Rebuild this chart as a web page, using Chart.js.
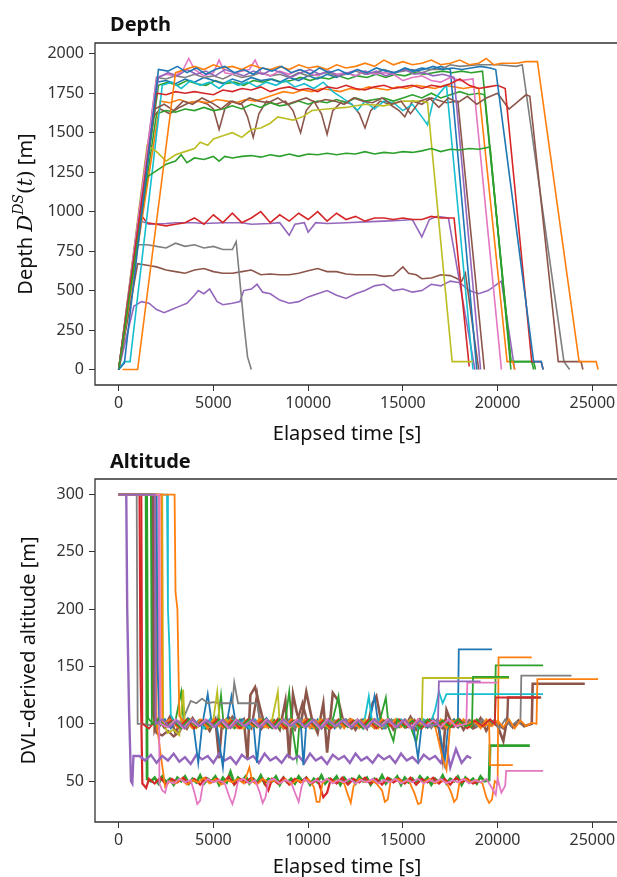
<!DOCTYPE html>
<html>
<head>
<meta charset="utf-8">
<script src="https://cdn.jsdelivr.net/npm/chart.js@4.4.1/dist/chart.umd.min.js"></script>
<style>
html, body { margin: 0; padding: 0; background: #fff; overflow: hidden; width: 617px; height: 877px; }
#depthChart { position: absolute; left: 0; top: 0; }
#altChart { position: absolute; left: 0; top: 440px; }
</style>
</head>
<body>
<canvas id="depthChart" width="617" height="460"></canvas>
<canvas id="altChart" width="617" height="437"></canvas>
<script>
// tick labels
const TIME_TICKS = [0, 5000, 10000, 15000, 20000, 25000];
const DEPTH_TICKS = [0, 250, 500, 750, 1000, 1250, 1500, 1750, 2000];
const ALT_TICKS = [50, 100, 150, 200, 250, 300];

// matplotlib tab10
const C = {
    blue: '#1f77b4', orange: '#ff7f0e', green: '#2ca02c', red: '#d62728', purple: '#9467bd',
    brown: '#8c564b', pink: '#e377c2', gray: '#7f7f7f', olive: '#bcbd22', cyan: '#17becf'
};

// ---- Depth dives [time s, depth m] ----
const dGray780 = [[0,0],[1000,790],[1500,790],[2000,780],[2500,770],[3000,800],[3500,780],[4000,790],[4500,770],[5000,780],[5500,760],[6000,760],[6200,810],[6600,300],[6800,80],[7000,0]];
const dBrown620 = [[0,0],[1000,670],[1500,660],[2000,650],[2500,630],[3000,620],[3500,610],[4000,630],[4500,640],[5000,620],[5500,610],[6000,610],[6500,620],[7000,630],[7500,600],[8000,605],[8500,600],[9000,600],[9500,610],[10000,625],[10500,640],[11000,620],[11500,620],[12000,605],[12500,600],[13000,600],[13500,600],[14000,590],[14500,595],[15000,650],[15300,610],[15700,600],[16000,575],[16500,580],[17000,600],[17500,595],[17800,580],[18100,560],[18300,610],[19000,0]];
const dPurple450 = [[0,0],[800,400],[1200,430],[1600,420],[2000,380],[2400,360],[2800,380],[3200,400],[3600,420],[4000,470],[4200,500],[4500,480],[4800,510],[5200,430],[5500,410],[6000,420],[6400,430],[6600,500],[7000,510],[7300,540],[7600,490],[8000,480],[8500,440],[9000,420],[9500,430],[10000,460],[10500,480],[11000,500],[11500,470],[12000,450],[12500,480],[13000,500],[13500,530],[14000,540],[14500,500],[15000,510],[15500,490],[16000,500],[16500,540],[17000,530],[17500,560],[18000,550],[18500,500],[19000,480],[19500,500],[20200,560],[20900,0]];
const dRed950 = [[0,0],[1100,990],[1500,930],[2000,920],[2500,910],[3000,920],[3500,930],[4000,960],[4500,920],[5000,980],[5500,930],[6000,990],[6500,930],[7000,960],[7500,1000],[8000,930],[8500,980],[9000,940],[9500,990],[10000,950],[10500,1000],[11000,940],[11500,990],[12000,950],[12500,970],[13000,940],[13500,960],[14000,960],[14500,950],[15000,960],[15500,950],[16000,950],[16500,970],[17000,960],[17700,960],[18500,20]];
const dPurple930 = [[0,0],[1200,940],[1600,920],[2500,925],[3000,930],[4000,930],[4500,925],[5500,930],[6500,930],[7000,920],[8000,925],[8500,930],[9000,850],[9300,920],[9800,930],[10000,870],[10400,930],[11000,925],[12000,930],[13000,935],[14000,940],[15000,945],[15500,950],[16000,840],[16400,950],[16800,970],[17400,960],[18800,0]];
const dGreen1350 = [[0,0],[1500,1220],[2000,1260],[2500,1300],[3000,1320],[3300,1360],[3600,1310],[4000,1340],[4500,1330],[5000,1350],[5300,1320],[5600,1350],[6000,1340],[6500,1350],[7000,1355],[7500,1345],[8000,1360],[8500,1350],[9000,1365],[9500,1350],[10000,1365],[10500,1360],[11000,1370],[11500,1360],[12000,1370],[12500,1365],[13000,1380],[13500,1365],[14000,1375],[14500,1370],[15000,1380],[15500,1375],[16000,1385],[16500,1400],[17000,1380],[17500,1395],[18000,1390],[18500,1400],[19000,1395],[19600,1410],[20700,0]];
const dOlive = [[0,0],[1500,1420],[2000,1380],[2500,1320],[3000,1360],[3500,1380],[4000,1400],[4300,1440],[4700,1420],[5000,1460],[5500,1480],[6000,1500],[6500,1470],[7000,1520],[7500,1530],[8000,1560],[8400,1600],[8800,1590],[9200,1580],[9700,1600],[10200,1640],[11000,1650],[12000,1660],[13000,1680],[14000,1670],[15000,1700],[16000,1700],[16300,1690],[17600,50],[18700,50]];
const dBlue1 = [[0,0],[300,40],[2100,1900],[2600,1890],[3100,1920],[3600,1880],[4100,1910],[4600,1870],[5100,1900],[5600,1920],[6100,1880],[6600,1900],[7100,1870],[7600,1910],[8100,1890],[8600,1920],[9100,1880],[9600,1900],[10100,1870],[10600,1910],[11100,1880],[11600,1900],[12100,1870],[12600,1900],[13100,1880],[13600,1910],[14100,1890],[14600,1880],[15100,1910],[15600,1890],[16100,1900],[16600,1920],[17100,1900],[17600,1910],[18100,1900],[18600,1910],[19100,1920],[19600,1910],[19900,1900],[21900,50],[22300,50],[22400,0]];
const dOrangeLong = [[200,0],[1000,0],[3000,1880],[3500,1900],[4000,1920],[4500,1900],[5000,1930],[5500,1910],[6000,1920],[6500,1900],[7000,1930],[7500,1910],[8000,1900],[8500,1920],[9000,1900],[9500,1930],[10000,1910],[10500,1920],[11000,1900],[11500,1930],[12000,1910],[12500,1920],[13000,1940],[13500,1920],[14000,1960],[14500,1930],[15000,1950],[15500,1930],[16000,1940],[16500,1960],[17000,1930],[17500,1940],[18000,1960],[18500,1930],[19000,1940],[19400,1970],[19800,1930],[20200,1940],[20600,1940],[21000,1940],[21500,1950],[22100,1950],[24300,50],[25200,50],[25300,0]];
const dGrayLong = [[0,0],[2000,1850],[2500,1840],[3000,1860],[3500,1850],[4000,1870],[4500,1850],[5000,1860],[5500,1840],[6000,1870],[6500,1850],[7000,1860],[7500,1880],[8000,1860],[8500,1870],[9000,1850],[9500,1880],[10000,1860],[10500,1870],[11000,1880],[11500,1860],[12000,1870],[12500,1890],[13000,1870],[13500,1880],[14000,1900],[14500,1880],[15000,1890],[15500,1900],[16000,1880],[16500,1900],[17000,1900],[17500,1930],[18000,1920],[19000,1930],[20000,1930],[21000,1920],[21300,1930],[23500,50],[23800,0]];
const dBrownLong = [[0,0],[1900,1650],[2400,1680],[2900,1640],[3400,1700],[3900,1680],[4400,1720],[4900,1690],[5400,1650],[5900,1700],[6400,1680],[6900,1720],[7400,1700],[7900,1690],[8400,1720],[8900,1680],[9400,1700],[9900,1720],[10400,1690],[10900,1710],[11400,1700],[11900,1680],[12400,1720],[12900,1700],[13400,1690],[13900,1720],[14400,1680],[14900,1700],[15400,1620],[15900,1700],[16400,1720],[16900,1660],[17400,1720],[17900,1690],[18400,1730],[18900,1680],[19400,1720],[20000,1750],[20600,1650],[21100,1700],[21500,1740],[21700,1730],[23200,50],[24400,50],[24500,0]];
const dBrownDip = [[0,0],[1800,1600],[2200,1650],[2700,1620],[3200,1660],[3700,1690],[4200,1700],[4700,1680],[5000,1650],[5300,1520],[5600,1650],[6000,1700],[6500,1680],[6800,1600],[7100,1470],[7400,1620],[7800,1700],[8300,1680],[8800,1700],[9200,1640],[9600,1500],[9900,1640],[10300,1700],[10700,1620],[11000,1490],[11300,1640],[11800,1700],[12300,1680],[12700,1620],[13000,1530],[13300,1640],[13800,1700],[14300,1680],[14800,1640],[15100,1600],[15500,1700],[16000,1680],[16500,1720],[17000,1700],[17300,1690],[17900,1700],[19300,0]];
const dPink = [[0,0],[2000,1850],[2500,1870],[3000,1860],[3400,1900],[3700,1970],[4000,1900],[4500,1860],[5000,1880],[5300,1960],[5600,1880],[6000,1870],[6500,1890],[6900,1900],[7200,1960],[7500,1880],[8000,1860],[8500,1890],[9000,1870],[9500,1900],[10000,1880],[10500,1860],[11000,1890],[11500,1870],[12000,1880],[12500,1860],[13000,1890],[13500,1870],[14000,1880],[14500,1870],[15000,1830],[15500,1850],[16000,1860],[16500,1830],[17000,1820],[17500,1850],[18000,1830],[18700,1840],[20200,0]];
const dCyan = [[0,0],[300,50],[600,50],[2300,1800],[2800,1820],[3300,1780],[3800,1830],[4300,1800],[4800,1820],[5300,1780],[5800,1830],[6300,1800],[6800,1820],[7300,1790],[7800,1820],[8300,1800],[8800,1830],[9300,1790],[9800,1810],[10300,1780],[10800,1820],[11300,1760],[11800,1720],[12300,1680],[12600,1640],[13000,1700],[13500,1650],[14000,1700],[14500,1690],[15000,1640],[15500,1680],[16000,1600],[16300,1550],[16600,1700],[17000,1760],[17300,1800],[18700,0]];
const dRedTop = [[0,0],[2000,1750],[2500,1740],[3000,1760],[3500,1750],[4000,1760],[4500,1750],[5000,1740],[5500,1770],[6000,1760],[6500,1780],[7000,1770],[7500,1790],[8000,1760],[8500,1780],[9000,1790],[9500,1770],[10000,1780],[10500,1760],[11000,1790],[11500,1780],[12000,1800],[12500,1780],[13000,1770],[13500,1790],[14000,1800],[14500,1780],[15000,1790],[15500,1800],[16000,1780],[16500,1800],[17000,1790],[17500,1810],[18000,1840],[18500,1800],[19000,1780],[19500,1790],[20000,1800],[20400,1780],[21800,50],[22300,50],[22400,0]];
const dGreenTop = [[0,0],[2000,1620],[2500,1640],[3000,1630],[3500,1650],[4000,1640],[4500,1660],[5000,1640],[5500,1650],[6000,1670],[6500,1650],[7000,1680],[7500,1660],[8000,1690],[8500,1670],[9000,1680],[9500,1700],[10000,1680],[10500,1700],[11000,1690],[11500,1710],[12000,1690],[12500,1720],[13000,1700],[13500,1710],[14000,1720],[14500,1700],[15000,1720],[15500,1740],[16000,1720],[16500,1750],[17000,1720],[17500,1740],[18000,1760],[18500,1740],[19000,1750],[19300,1740],[20700,50],[21900,50],[22000,0]];
const dGreen2 = [[0,0],[2100,1800],[2600,1820],[3100,1800],[3600,1830],[4100,1810],[4600,1800],[5100,1830],[5600,1810],[6100,1820],[6600,1800],[7100,1830],[7600,1820],[8100,1840],[8600,1820],[9100,1830],[9600,1850],[10100,1830],[10600,1850],[11100,1840],[11600,1860],[12100,1840],[12600,1860],[13100,1850],[13600,1870],[14100,1850],[14600,1870],[15100,1860],[15600,1880],[16100,1870],[16600,1880],[17100,1890],[17600,1880],[18100,1890],[18600,1880],[19200,1890],[20700,50],[21800,50],[21900,0]];
const dPurpleTop = [[0,0],[2100,1850],[2600,1880],[3100,1860],[3600,1900],[4100,1870],[4600,1890],[5100,1860],[5600,1900],[6100,1880],[6600,1860],[7100,1890],[7600,1870],[8100,1900],[8600,1880],[9100,1850],[9600,1880],[10100,1900],[10600,1870],[11100,1890],[11600,1860],[12100,1880],[12600,1900],[13100,1870],[13600,1890],[14100,1860],[14600,1880],[15100,1900],[15600,1870],[16100,1880],[16600,1860],[17100,1870],[17700,1850],[19100,0]];
const dOrange2 = [[0,0],[2200,1700],[2700,1690],[3200,1710],[3700,1690],[4200,1700],[4700,1690],[5200,1710],[5700,1700],[6200,1690],[6700,1710],[7200,1700],[7700,1720],[8200,1740],[8700,1760],[9200,1750],[9700,1770],[10200,1760],[10700,1780],[11200,1770],[11700,1760],[12200,1780],[12700,1770],[13200,1790],[13700,1780],[14200,1770],[14700,1790],[15200,1780],[15700,1800],[16200,1790],[16700,1780],[17200,1800],[17700,1790],[18200,1780],[18700,1790],[19000,1780],[20500,50],[20800,50],[20900,0]];
const dBlue2 = [[0,0],[2000,1820],[2500,1830],[3000,1810],[3500,1840],[4000,1820],[4500,1850],[5000,1830],[5500,1810],[6000,1840],[6500,1820],[7000,1850],[7500,1830],[8000,1840],[8500,1820],[9000,1850],[9500,1830],[10000,1860],[10500,1840],[11000,1870],[11500,1850],[12000,1880],[12500,1860],[13000,1890],[13500,1870],[14000,1900],[14500,1880],[15000,1900],[15500,1890],[16000,1910],[16500,1900],[17000,1920],[17500,1900],[18900,0]];

// ---- DVL altitude [time s, altitude m] ----
const aPurple70 = [[0,300],[400,300],[450,200],[550,110],[650,50],[720,48],[780,72],[1100,72],[1400,68],[1700,73],[2000,66],[2300,72],[2600,68],[2900,74],[3200,67],[3500,71],[3800,65],[4100,73],[4400,69],[4700,72],[5000,66],[5300,74],[5600,68],[5900,71],[6200,65],[6500,73],[6800,69],[7100,72],[7400,66],[7700,74],[8000,68],[8300,71],[8600,66],[8900,73],[9200,69],[9500,72],[9800,66],[10100,74],[10400,68],[10700,71],[11000,65],[11300,73],[11600,69],[11900,72],[12200,66],[12500,74],[12800,68],[13100,71],[13400,66],[13700,73],[14000,69],[14300,72],[14600,66],[14900,74],[15200,68],[15500,71],[15800,66],[16100,73],[16400,69],[16700,72],[17000,66],[17300,80],[17500,62],[17800,78],[18100,66],[18400,72],[18600,70]];
const aPurple100 = [[0,300],[1900,300],[1950,100],[2300,104],[2700,97],[3100,103],[3500,96],[3900,104],[4300,98],[4700,103],[5100,97],[5500,104],[5900,96],[6300,103],[6700,98],[7100,104],[7500,97],[7900,103],[8300,96],[8700,104],[9100,98],[9500,103],[9900,97],[10300,104],[10700,96],[11100,103],[11500,98],[11900,104],[12300,97],[12700,103],[13100,96],[13500,104],[13900,98],[14300,103],[14700,97],[15100,104],[15500,96],[15900,103],[16300,98],[16850,100],[16900,137],[19100,137]];
const aPink100 = [[0,300],[2150,300],[2200,100],[2600,97],[3000,104],[3400,96],[3800,103],[4200,98],[4600,104],[5000,97],[5400,103],[5800,96],[6200,104],[6600,98],[7000,103],[7400,97],[7800,104],[8200,96],[8600,103],[9000,98],[9400,104],[9800,97],[10200,103],[10600,96],[11000,104],[11400,98],[11800,103],[12200,97],[12600,104],[13000,96],[13400,103],[13800,98],[14200,104],[14600,97],[15000,103],[15400,96],[15800,104],[16200,98],[16600,103],[17000,97],[17400,104],[17800,98],[18350,100],[18400,136],[20000,136]];
const aGreen2 = [[0,300],[1700,300],[1750,100],[2100,104],[2500,97],[2900,103],[3300,96],[3700,104],[4100,98],[4500,103],[4900,97],[5300,104],[5700,96],[6100,103],[6500,98],[6900,104],[7300,97],[7700,103],[8100,96],[8500,104],[8900,98],[9300,103],[9700,97],[10100,104],[10500,96],[10900,103],[11300,98],[11700,104],[12100,97],[12500,103],[12900,96],[13300,104],[13700,98],[14100,103],[14500,85],[14700,104],[15100,97],[15500,103],[15900,96],[16300,104],[16700,98],[17100,103],[17500,97],[17900,104],[18300,98],[18650,100],[18700,141],[20600,141]];
const aRed100 = [[0,300],[1200,300],[1250,100],[1600,96],[2000,104],[2400,98],[2800,103],[3200,97],[3600,104],[4000,96],[4400,103],[4800,98],[5200,104],[5600,97],[6000,103],[6400,96],[6800,104],[7200,98],[7600,103],[8000,97],[8400,104],[8800,96],[9200,103],[9600,98],[10000,104],[10400,97],[10800,103],[11200,96],[11600,104],[12000,98],[12400,103],[12800,97],[13200,104],[13600,96],[14000,103],[14400,98],[14800,104],[15200,97],[15600,103],[16000,96],[16400,104],[16800,98],[17200,103],[17600,97],[18000,104],[18400,96],[18800,103],[19200,98],[19600,104],[19850,100],[19900,123],[22200,123]];
const aOrange3 = [[0,300],[2250,300],[2300,100],[2700,104],[3100,97],[3500,103],[3900,96],[4300,104],[4700,98],[5100,103],[5500,97],[5900,104],[6300,96],[6700,103],[7100,98],[7500,104],[7900,97],[8300,103],[8700,96],[9100,104],[9500,98],[9900,103],[10300,97],[10700,104],[11100,96],[11500,103],[11900,98],[12300,104],[12700,97],[13100,103],[13500,96],[13900,104],[14300,98],[14700,103],[15100,97],[15500,104],[15900,96],[16300,103],[16700,98],[17100,70],[17300,60],[17500,100],[17900,104],[18300,98],[18700,103],[19100,97],[19550,100],[19600,64],[20800,64]];
const aOrangeLong = [[0,300],[2950,300],[3000,215],[3100,200],[3200,107],[3500,100],[3800,104],[4100,97],[4400,103],[4700,96],[5000,104],[5300,98],[5600,103],[5900,97],[6200,104],[6500,96],[6800,103],[7100,98],[7400,104],[7700,97],[8000,103],[8300,96],[8600,104],[8900,98],[9200,103],[9500,97],[9800,104],[10100,96],[10400,103],[10700,98],[11000,104],[11300,97],[11600,103],[11900,96],[12200,104],[12500,98],[12800,103],[13100,97],[13400,104],[13700,96],[14000,103],[14300,98],[14600,104],[14900,97],[15200,103],[15500,96],[15800,104],[16100,98],[16400,103],[16700,97],[17000,104],[17300,96],[17600,103],[17900,98],[18200,104],[18500,97],[18800,103],[19100,96],[19400,104],[19700,98],[20000,103],[20300,97],[20600,104],[20900,96],[21200,103],[21500,98],[21800,101],[22050,100],[22100,139],[25300,139]];
const aOlive = [[0,300],[2300,300],[2350,100],[2600,92],[2900,95],[3200,90],[3400,130],[3500,96],[3800,100],[4100,96],[4400,103],[4700,97],[5000,104],[5200,128],[5350,98],[5700,104],[6000,97],[6300,103],[6600,96],[6900,104],[7200,98],[7500,103],[7800,97],[8100,104],[8400,128],[8500,98],[8800,103],[9100,97],[9400,104],[9700,98],[10000,103],[10300,96],[10600,104],[10900,98],[11200,103],[11500,97],[11800,104],[12100,98],[12400,103],[12700,96],[13000,104],[13300,98],[13600,103],[13900,97],[14200,104],[14500,98],[14800,103],[15100,97],[15400,104],[15700,98],[16000,102],[16050,140],[20600,140]];
const aGray = [[0,300],[950,300],[1000,100],[1300,100],[1600,99],[1900,101],[2200,100],[2500,98],[2800,103],[3100,99],[3400,104],[3600,112],[3800,120],[4100,118],[4400,122],[4700,118],[5000,119],[5300,118],[6000,118],[6100,136],[6300,118],[7300,118],[7500,100],[7800,103],[8100,97],[8400,104],[8700,98],[9000,103],[9300,96],[9600,104],[9900,98],[10200,103],[10500,97],[10800,104],[11100,98],[11400,103],[11700,96],[12000,104],[12300,98],[12600,103],[12900,97],[13200,104],[13500,98],[13800,103],[14100,96],[14400,104],[14700,98],[15000,103],[15300,97],[15600,104],[15900,98],[16200,103],[16500,96],[16800,104],[17100,98],[17400,103],[17700,97],[18000,104],[18300,98],[18600,103],[18900,97],[19200,104],[19500,98],[19800,103],[20100,96],[20400,104],[20700,98],[21000,102],[21200,100],[21250,142],[23900,142]];
const aCyan = [[0,300],[2550,300],[2600,200],[2680,165],[2750,108],[3000,100],[3300,96],[3600,104],[3900,98],[4200,103],[4500,96],[4800,104],[5100,98],[5400,103],[5700,97],[6000,104],[6300,98],[6600,103],[6900,96],[7200,104],[7500,98],[7800,103],[8100,97],[8400,104],[8700,96],[9000,103],[9300,98],[9600,104],[9900,97],[10200,103],[10500,96],[10800,104],[11100,98],[11400,103],[11700,97],[12000,104],[12300,98],[12600,103],[12900,96],[13200,124],[13400,98],[13700,104],[14000,97],[14300,103],[14600,98],[14900,104],[15200,97],[15500,103],[15800,96],[16100,104],[16400,98],[16700,112],[16900,128],[17100,118],[17300,126],[22400,126]];
const aBlue = [[0,300],[2000,300],[2050,150],[2150,100],[2450,104],[2750,96],[3050,103],[3350,97],[3650,105],[3950,98],[4200,66],[4400,98],[4700,126],[4900,102],[5200,96],[5500,62],[5700,100],[5950,124],[6200,98],[6500,104],[6800,96],[7100,103],[7300,66],[7500,99],[7800,105],[8100,97],[8400,103],[8700,96],[9000,104],[9300,98],[9600,104],[9750,64],[9900,100],[10200,96],[10500,104],[10800,98],[11100,103],[11400,96],[11700,104],[12000,98],[12300,103],[12600,97],[12900,104],[13200,98],[13500,124],[13700,100],[14000,96],[14300,104],[14600,98],[14900,103],[15200,97],[15500,104],[15800,70],[16000,100],[16300,97],[16600,104],[16900,98],[17200,66],[17400,100],[17700,104],[17900,98],[17950,165],[19700,165]];
const aPink50 = [[0,300],[2100,300],[2150,48],[2300,42],[2450,40],[2600,50],[2900,48],[3200,52],[3500,49],[3800,51],[4000,40],[4150,30],[4300,33],[4450,48],[4700,52],[5000,49],[5300,51],[5600,48],[5850,36],[6000,30],[6150,38],[6300,50],[6600,52],[6900,48],[7200,51],[7450,40],[7600,31],[7750,36],[7900,50],[8200,52],[8500,48],[8800,51],[9100,49],[9350,38],[9500,32],[9650,45],[9800,52],[10100,48],[10400,51],[10700,49],[11000,52],[11300,48],[11600,51],[11900,49],[12200,52],[12500,48],[12800,51],[13100,49],[13400,52],[13700,48],[14000,51],[14300,49],[14600,52],[14900,48],[15200,51],[15500,49],[15800,52],[16100,48],[16400,51],[16700,49],[17000,52],[17300,48],[17600,51],[17900,49],[18200,52],[18500,48],[18800,51],[19100,49],[19400,52],[19700,44],[19900,38],[20000,52],[20200,40],[20400,46],[20450,59],[22400,59]];
const aOrange50 = [[0,300],[1950,300],[2000,100],[2450,45],[2700,50],[3000,48],[3300,52],[3600,47],[3900,51],[4200,49],[4500,53],[4800,48],[5100,52],[5400,47],[5700,51],[6000,49],[6300,52],[6600,48],[6900,62],[7050,50],[7300,47],[7600,52],[7900,49],[8200,51],[8500,48],[8800,52],[9100,47],[9400,51],[9700,49],[10000,52],[10300,45],[10450,32],[10600,32],[10750,48],[11000,52],[11300,49],[11600,51],[11900,48],[12100,38],[12250,31],[12400,46],[12700,52],[13000,49],[13300,51],[13600,48],[13900,42],[14050,32],[14200,34],[14350,50],[14700,52],[15000,49],[15300,51],[15600,40],[15800,30],[15950,31],[16100,49],[16400,52],[16700,48],[17000,51],[17300,49],[17550,40],[17700,32],[17850,35],[18000,50],[18300,52],[18600,49],[18900,51],[19200,48],[19400,36],[19550,31],[19700,34],[19850,50],[20000,48],[20050,158],[21800,158]];
const aRed50 = [[0,300],[1100,300],[1150,150],[1250,48],[1450,44],[1600,52],[1900,48],[2200,53],[2500,47],[2800,52],[3100,49],[3400,53],[3700,48],[4000,52],[4300,47],[4600,53],[4900,49],[5200,52],[5500,48],[5800,54],[6100,47],[6400,52],[6700,49],[7000,53],[7300,48],[7600,52],[7900,42],[8100,52],[8400,48],[8700,53],[9000,47],[9300,52],[9600,49],[9900,53],[10200,48],[10500,52],[10800,36],[11000,40],[11200,52],[11500,48],[11800,53],[12100,47],[12400,52],[12700,49],[13000,53],[13300,48],[13600,52],[13900,47],[14200,53],[14500,49],[14800,52],[15100,48],[15400,53],[15700,47],[16000,52],[16300,49],[16600,53],[16900,48],[17200,52],[17500,47],[17800,53],[18100,49],[18400,52],[18700,48],[19000,50]];
const aGreen50 = [[0,300],[1450,300],[1500,52],[1700,50],[1900,53],[2100,48],[2300,54],[2500,49],[2700,52],[2900,47],[3100,53],[3300,50],[3500,54],[3700,48],[3900,52],[4100,49],[4300,55],[4500,48],[4700,52],[4900,50],[5100,54],[5300,47],[5500,53],[5700,49],[5900,58],[6100,48],[6300,53],[6500,50],[6700,54],[6900,48],[7100,52],[7300,49],[7500,55],[7700,48],[7900,52],[8100,50],[8300,54],[8500,47],[8700,53],[8900,49],[9100,52],[9300,48],[9500,54],[9700,50],[9900,53],[10100,47],[10300,52],[10500,49],[10700,55],[10900,48],[11100,52],[11300,50],[11500,54],[11700,47],[11900,53],[12100,49],[12300,52],[12500,48],[12700,54],[12900,50],[13100,53],[13300,47],[13500,52],[13700,49],[13900,55],[14100,48],[14300,52],[14500,50],[14700,54],[14900,47],[15100,53],[15300,49],[15500,52],[15700,48],[15900,54],[16100,50],[16300,53],[16500,47],[16700,52],[16900,49],[17100,55],[17300,48],[17500,52],[17700,50],[17900,54],[18100,47],[18300,53],[18500,49],[18700,52],[18900,48],[19100,54],[19300,50],[19550,51],[19600,81],[21700,81]];
const aGreen100 = [[0,300],[1500,300],[1550,105],[1800,100],[2100,96],[2400,104],[2700,98],[3000,103],[3300,128],[3450,98],[3700,104],[4000,97],[4300,103],[4600,96],[4900,104],[5200,98],[5400,125],[5550,97],[5800,103],[6100,96],[6400,104],[6700,98],[7000,103],[7300,97],[7600,104],[7900,98],[8200,103],[8500,96],[8800,104],[9000,128],[9150,98],[9400,70],[9550,103],[9800,97],[10100,104],[10400,98],[10700,103],[11000,96],[11300,104],[11600,124],[11750,98],[12000,103],[12300,97],[12600,104],[12900,98],[13200,103],[13500,96],[13800,104],[14100,123],[14250,98],[14500,103],[14800,97],[15100,104],[15400,98],[15700,84],[15900,103],[16200,97],[16500,104],[16800,98],[17100,103],[17400,96],[17700,104],[18000,98],[18300,103],[18600,97],[18900,104],[19200,98],[19500,103],[19850,100],[19900,151],[22400,151]];
const aBrown2 = [[0,300],[1750,300],[1800,110],[2000,92],[2300,90],[2600,94],[2900,89],[3200,93],[3400,100],[3700,104],[4000,97],[4300,101],[4600,96],[5000,103],[5400,99],[5800,106],[6200,97],[6600,102],[7000,96],[7300,125],[7500,95],[7800,101],[8100,97],[8400,104],[8700,96],[9000,102],[9300,95],[9700,118],[10000,99],[10300,103],[10700,96],[11100,104],[11500,98],[11900,103],[12300,96],[12700,102],[13100,97],[13500,104],[13900,96],[14300,103],[14700,97],[15100,102],[15500,96],[15900,104],[16300,98],[16700,102],[17100,96],[17500,103],[17900,97],[18300,102],[18700,96],[19100,103],[19500,98],[19900,101],[20300,96],[20500,100],[20550,123],[22300,123]];
const aBrown100 = [[0,300],[1850,300],[1900,95],[2100,104],[2400,97],[2700,106],[3000,92],[3300,103],[3600,96],[3900,105],[4200,98],[4500,102],[4800,94],[5100,104],[5300,70],[5450,100],[5700,97],[6000,106],[6300,99],[6600,104],[6800,70],[6950,125],[7200,132],[7400,118],[7600,105],[7900,97],[8200,103],[8500,95],[8800,120],[9000,70],[9200,126],[9400,110],[9600,99],[9900,128],[10200,104],[10500,92],[10800,118],[11000,75],[11300,127],[11600,120],[11900,99],[12200,104],[12500,95],[12800,103],[13100,96],[13400,118],[13600,124],[13900,98],[14200,104],[14500,95],[14800,102],[15100,97],[15400,106],[15700,95],[16000,103],[16300,97],[16600,104],[16900,96],[17100,70],[17300,112],[17600,99],[17900,104],[18200,95],[18500,103],[18800,97],[19100,105],[19400,94],[19700,102],[20000,98],[20300,85],[20500,104],[20800,97],[21100,103],[21400,98],[21800,100],[21850,135],[24600,135]];

const depthSeries = [
    [dBlue1, C.blue], [dOrangeLong, C.orange], [dGreen1350, C.green], [dRedTop, C.red], [dPurpleTop, C.purple],
    [dBrownLong, C.brown], [dPink, C.pink], [dGrayLong, C.gray], [dOlive, C.olive], [dCyan, C.cyan],
    [dBlue2, C.blue], [dOrange2, C.orange], [dGreenTop, C.green], [dRed950, C.red], [dPurple930, C.purple],
    [dBrownDip, C.brown], [dGreen2, C.green], [dGray780, C.gray], [dBrown620, C.brown], [dPurple450, C.purple]
];

const altSeries = [
    [aPurple100, C.purple], [aPink100, C.pink], [aGreen2, C.green], [aRed100, C.red], [aOrange3, C.orange],
    [aOrangeLong, C.orange], [aOlive, C.olive], [aGray, C.gray], [aCyan, C.cyan], [aBlue, C.blue],
    [aPurple70, C.purple, 2.4], [aPink50, C.pink], [aOrange50, C.orange], [aRed50, C.red, 2.2], [aGreen100, C.green],
    [aBrown2, C.brown, 2.4], [aBrown100, C.brown, 2.6], [aGreen50, C.green, 2.8]
];

const xy = arr => arr.map(([x, y]) => ({ x, y }));

// frame (left, top, bottom - the right edge lies past the page), titles and axis labels
const decor = {
    id: 'decor',
    afterDraw(chart, args, o) {
        const { ctx, chartArea: a, width } = chart;
        ctx.save();
        ctx.strokeStyle = '#333';
        ctx.lineWidth = 1.3;
        ctx.beginPath();
        ctx.moveTo(width + 2, a.top);
        ctx.lineTo(a.left, a.top);
        ctx.lineTo(a.left, a.bottom);
        ctx.lineTo(width + 2, a.bottom);
        ctx.stroke();

        ctx.fillStyle = '#111';
        ctx.textBaseline = 'middle';
        ctx.font = 'bold 20px "Noto Sans"';
        ctx.textAlign = 'left';
        ctx.fillText(o.title, 110, o.titleY);

        ctx.font = '20px "Noto Sans"';
        ctx.textAlign = 'center';
        ctx.fillText('Elapsed time [s]', 347, o.xTitleY);

        // rotated y title built from pieces
        ctx.translate(o.yTitleX, (a.top + a.bottom) / 2);
        ctx.rotate(-Math.PI / 2);
        ctx.textAlign = 'left';
        ctx.textBaseline = 'alphabetic';
        let total = 0;
        o.yTitle.forEach(p => { ctx.font = p.font; total += ctx.measureText(p.text).width; });
        let x = -total / 2;
        o.yTitle.forEach(p => {
            ctx.font = p.font;
            ctx.fillText(p.text, x, 7 - (p.rise || 0));
            x += ctx.measureText(p.text).width;
        });
        ctx.restore();
    }
};

function makeChart(id, series, width, yMin, yMax, yTicks, padTop, xAxisH, decorOpts) {
    return new Chart(document.getElementById(id), {
        type: 'line',
        data: {
            datasets: series.map(([arr, col, w]) => ({
                data: xy(arr),
                borderColor: col,
                borderWidth: w || width,
                pointRadius: 0,
                fill: false,
                tension: 0
            }))
        },
        options: {
            responsive: false,
            animation: false,
            events: [],
            layout: { padding: { top: padTop, right: 0, bottom: 0, left: 0 } },
            plugins: {
                legend: { display: false },
                tooltip: { enabled: false },
                decor: decorOpts
            },
            scales: {
                x: {
                    type: 'linear',
                    min: -1250,
                    max: 26300,
                    afterBuildTicks: s => { s.ticks = TIME_TICKS.map(v => ({ value: v })); },
                    afterFit: s => { s.height = xAxisH; s.paddingLeft = 0; s.paddingRight = 0; },
                    ticks: { color: '#333', font: { family: '"Noto Sans"', size: 16 }, padding: 3, maxRotation: 0, autoSkip: false, callback: v => String(v) },
                    grid: { display: true, drawOnChartArea: false, drawTicks: true, tickLength: 6, color: '#333' },
                    border: { display: false }
                },
                y: {
                    type: 'linear',
                    min: yMin,
                    max: yMax,
                    afterBuildTicks: s => { s.ticks = yTicks.map(v => ({ value: v })); },
                    afterFit: s => { s.width = 95; },
                    ticks: { color: '#333', font: { family: '"Noto Sans"', size: 16 }, padding: 5, callback: v => String(v) },
                    grid: { display: true, drawOnChartArea: false, drawTicks: true, tickLength: 6, color: '#333' },
                    border: { display: false }
                }
            }
        },
        plugins: [decor]
    });
}

makeChart('depthChart', depthSeries, 1.6, -98, 2068, DEPTH_TICKS, 43, 75, {
    title: 'Depth', titleY: 25, xTitleY: 434, yTitleX: 25,
    yTitle: [
        { text: 'Depth ', font: '20px "Noto Sans"' },
        { text: 'D', font: 'italic 21px "DejaVu Serif"' },
        { text: 'DS', font: 'italic 14px "DejaVu Serif"', rise: 9 },
        { text: '(', font: '20px "DejaVu Serif"' },
        { text: 't', font: 'italic 20px "DejaVu Serif"' },
        { text: ')', font: '20px "DejaVu Serif"' },
        { text: ' [m]', font: '20px "Noto Sans"' }
    ]
});

makeChart('altChart', altSeries, 1.8, 14.4, 313.6, ALT_TICKS, 39, 55, {
    title: 'Altitude', titleY: 22, xTitleY: 427, yTitleX: 28,
    yTitle: [{ text: 'DVL-derived altitude [m]', font: '20px "Noto Sans"' }]
});
</script>
</body>
</html>
